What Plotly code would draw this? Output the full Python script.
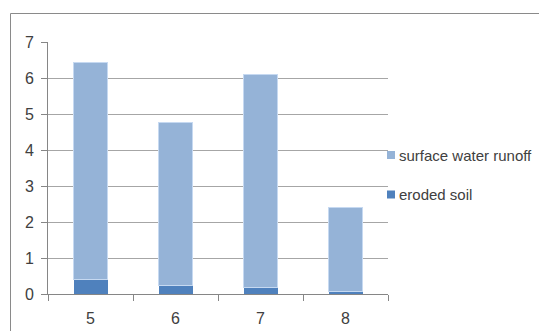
import plotly.graph_objects as go

categories = ["5", "6", "7", "8"]
eroded_soil = [0.39, 0.23, 0.19, 0.06]
surface_runoff = [6.03, 4.54, 5.91, 2.33]
series_names = ["surface water runoff", "eroded soil"]
y_ticks = [0, 1, 2, 3, 4, 5, 6, 7]

OFF = 8  # page body margin
W, H = 547 - OFF, 331 - OFF
# plot area in page pixel coordinates
L, R, T, B = 48, 388, 42, 294
pw, ph = R - L, B - T


def px(x):
    return (x - L) / pw


def py(y):
    return (B - y) / ph


FONT = "Liberation Sans"
TXT = "#404040"
c_runoff = "#95b3d7"
c_eroded = "#4f81bd"

fig = go.Figure()
fig.add_trace(go.Bar(x=categories, y=eroded_soil, name=series_names[1],
                     marker=dict(color=c_eroded, line=dict(width=0)), width=0.4))
fig.add_trace(go.Bar(x=categories, y=surface_runoff, name=series_names[0],
                     marker=dict(color=c_runoff, line=dict(width=1, color="#c6d9f1")), width=0.4))

shapes = [
    dict(type="line", xref="paper", yref="paper", x0=px(10.5), x1=px(10.5), y0=py(13.5), y1=py(340),
         line=dict(color="#8a8a8a", width=1)),
    dict(type="line", xref="paper", yref="paper", x0=px(10.5), x1=px(560), y0=py(13.5), y1=py(13.5),
         line=dict(color="#8a8a8a", width=1)),
]
annotations = []
legend_items = [(series_names[0], c_runoff, 155), (series_names[1], c_eroded, 194.5)]
for name, col, cy in legend_items:
    shapes.append(dict(type="rect", xref="paper", yref="paper", x0=px(387), x1=px(395),
                       y0=py(cy + 4), y1=py(cy - 4), fillcolor=col, line=dict(width=0)))
    annotations.append(dict(text=name, xref="paper", yref="paper", x=px(397), y=py(cy),
                            xanchor="left", yanchor="middle", showarrow=False,
                            font=dict(family=FONT, size=15, color=TXT)))

fig.update_layout(
    width=W, height=H,
    margin=dict(l=L - OFF, r=W - (R - OFF), t=T - OFF, b=H - (B - OFF), pad=0, autoexpand=False),
    barmode="stack",
    showlegend=False,
    plot_bgcolor="white", paper_bgcolor="white",
    font=dict(family=FONT, size=16, color=TXT),
    shapes=shapes, annotations=annotations,
    xaxis=dict(type="category", range=[-0.5, 3.5], showline=True, linecolor="#868686", linewidth=1,
               ticks="outside", tickson="boundaries", ticklen=6, tickcolor="#868686",
               ticklabelstandoff=10, automargin=False,
               showgrid=False, tickfont=dict(size=16, color=TXT)),
    yaxis=dict(range=[0, 7], tickvals=y_ticks, showline=True, linecolor="#868686", linewidth=1,
               ticks="outside", ticklen=6, tickcolor="#868686", showgrid=True,
               ticklabelstandoff=4, automargin=False,
               gridcolor="#a6a6a6", gridwidth=1, zeroline=False, tickfont=dict(size=16, color=TXT)),
)

fig.write_html("out.html")
